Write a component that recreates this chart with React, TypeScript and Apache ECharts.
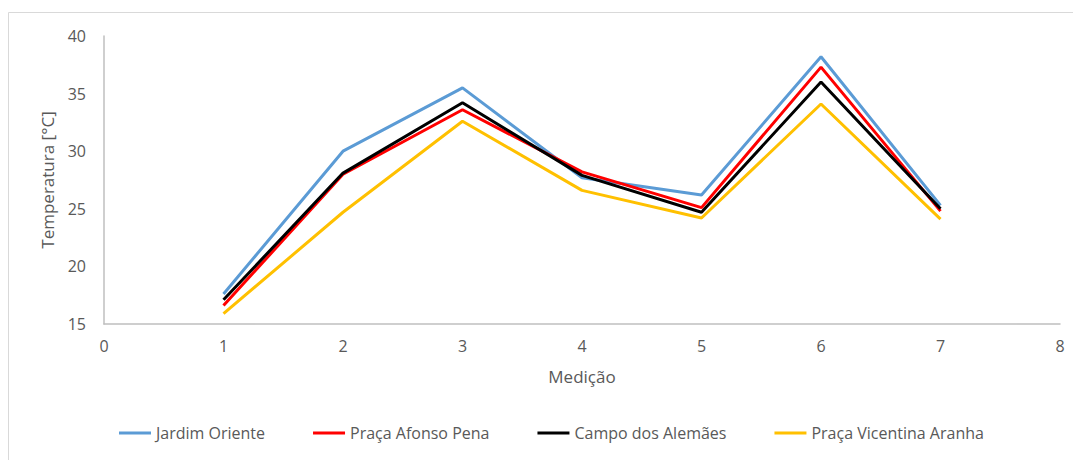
import React, { useEffect, useRef } from "react";
import * as echarts from "echarts";

const xValues = [1, 2, 3, 4, 5, 6, 7];
const seriesNames = ["Jardim Oriente", "Praça Afonso Pena", "Campo dos Alemães", "Praça Vicentina Aranha"];
const jardimOriente = [17.6, 30.0, 35.5, 27.7, 26.2, 38.2, 25.3];
const pracaAfonsoPena = [16.6, 28.0, 33.6, 28.2, 25.1, 37.3, 24.8];
const campoAlemaes = [17.1, 28.1, 34.2, 27.9, 24.7, 36.0, 25.0];
const pracaVicentina = [15.9, 24.7, 32.6, 26.6, 24.2, 34.1, 24.1];
const colors = ["#5B9BD5", "#FF0000", "#000000", "#FFC000"];

export default function App() {
  const ref = useRef<HTMLDivElement>(null);
  useEffect(() => {
    if (!ref.current) return;
    const chart = echarts.init(ref.current, null, { renderer: "svg" });
    const all = [jardimOriente, pracaAfonsoPena, campoAlemaes, pracaVicentina];
    const font = "'Open Sans', 'Liberation Sans', sans-serif";
    chart.setOption({
      animation: false,
      textStyle: { fontFamily: font },
      graphic: [
        {
          type: "rect",
          shape: { x: 8.5, y: 12.5, width: 1200, height: 600 },
          style: { fill: "none", stroke: "#d9d9d9", lineWidth: 1 },
          silent: true,
        },
      ],
      grid: { left: 104, right: 13, top: 36, bottom: 136 },
      legend: {
        bottom: 14,
        left: 114,
        itemWidth: 32,
        itemHeight: 3,
        itemGap: 48,
        icon: "rect",
        textStyle: { color: "#595959", fontSize: 16, fontFamily: font },
        data: seriesNames,
      },
      xAxis: {
        type: "value",
        min: 0,
        max: 8,
        interval: 1,
        name: "Medição",
        nameLocation: "middle",
        nameGap: 44,
        nameTextStyle: { color: "#595959", fontSize: 17 },
        axisLine: { show: true, lineStyle: { color: "#bfbfbf", width: 1.5 } },
        axisTick: { show: false },
        splitLine: { show: false },
        axisLabel: { color: "#595959", fontSize: 16, margin: 14 },
      },
      yAxis: {
        type: "value",
        min: 15,
        max: 40,
        interval: 5,
        name: "Temperatura [°C]",
        nameLocation: "middle",
        nameGap: 48,
        nameTextStyle: { color: "#595959", fontSize: 17 },
        axisLine: { show: true, lineStyle: { color: "#bfbfbf", width: 1.5 } },
        axisTick: { show: false },
        splitLine: { show: false },
        axisLabel: { color: "#595959", fontSize: 16, margin: 18 },
      },
      series: seriesNames.map((name, i) => ({
        name,
        type: "line",
        data: xValues.map((x, j) => [x, all[i][j]]),
        showSymbol: false,
        symbol: "none",
        lineStyle: { color: colors[i], width: 3 },
        itemStyle: { color: colors[i] },
      })),
    });
    return () => chart.dispose();
  }, []);
  return <div ref={ref} style={{ position: "absolute", left: 0, top: 0, width: 1073, height: 460, background: "#fff" }} />;
}
